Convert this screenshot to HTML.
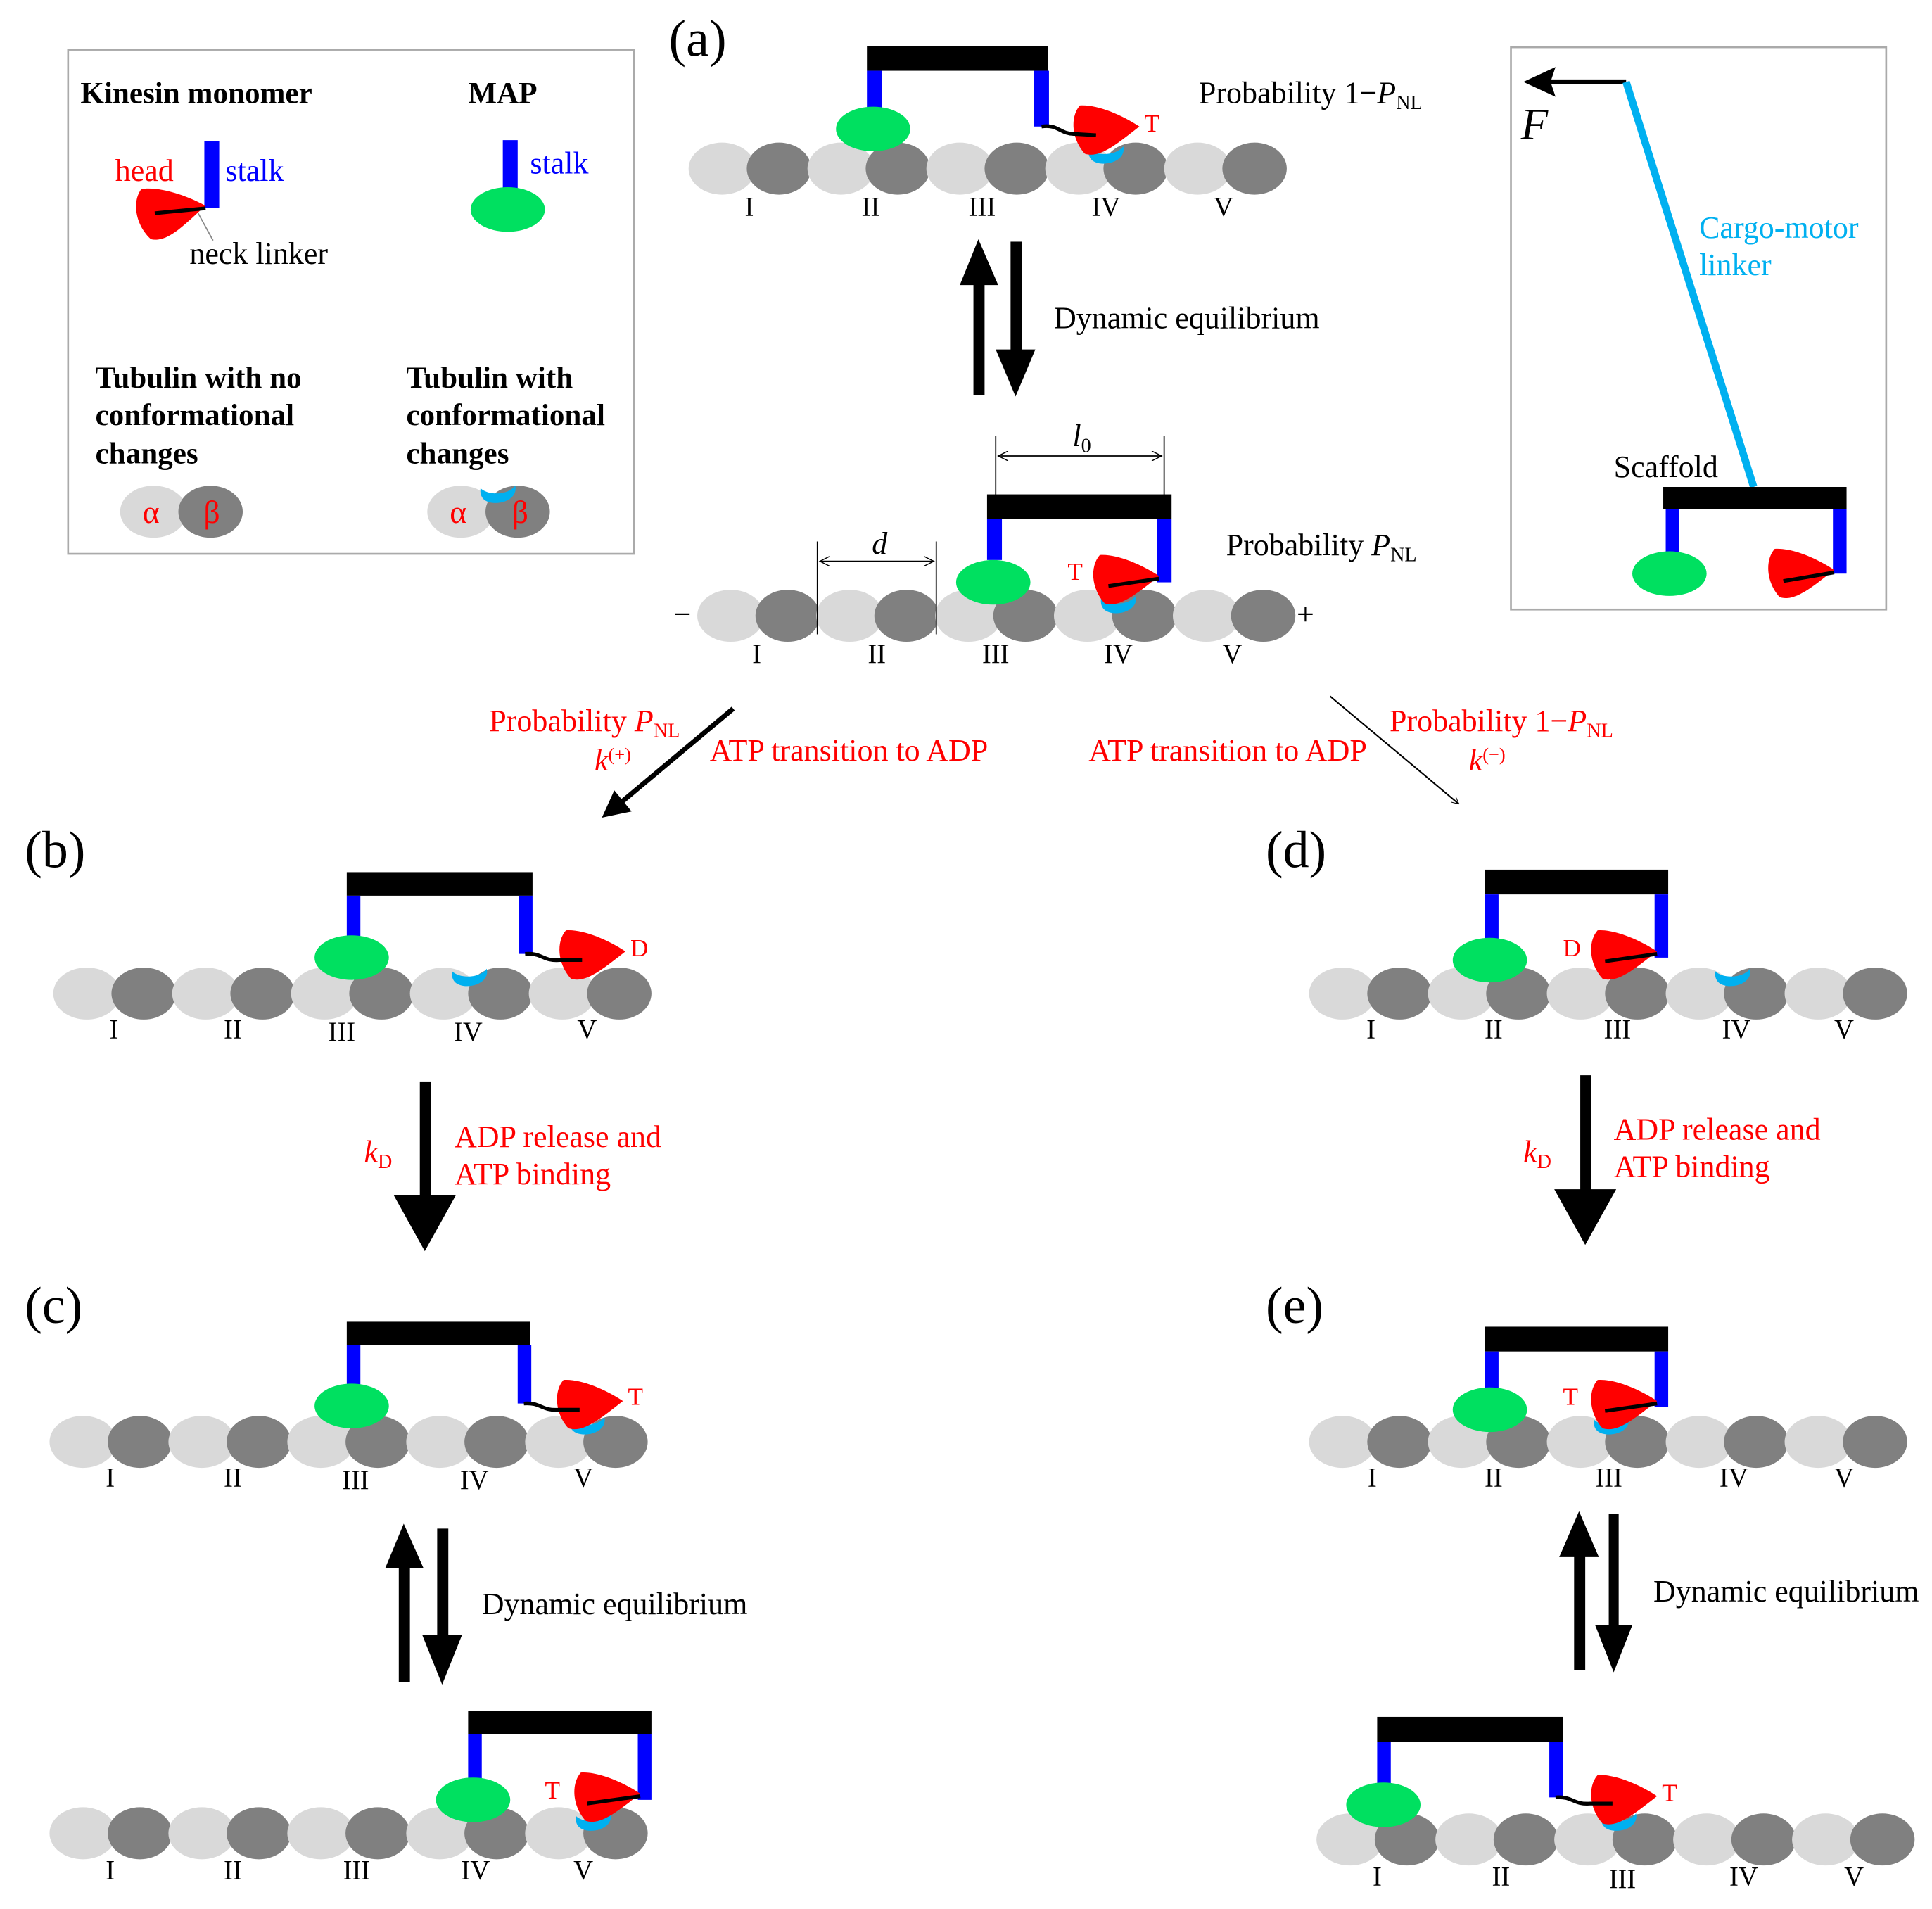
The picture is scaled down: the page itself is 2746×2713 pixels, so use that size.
<!DOCTYPE html>
<html><head><meta charset="utf-8"><style>
html,body{margin:0;padding:0;background:#fff}
svg{display:block}
text{font-family:"Liberation Serif",serif;font-size:25px;fill:#000}
.r{fill:#f00}
.rom{font-size:22px;text-anchor:middle}
.lab{font-size:42px}
.b{font-weight:bold;font-size:24.5px}
.s{font-size:20px}
</style></head><body>
<svg width="2746" height="2713" viewBox="0 0 1560 1541" xmlns="http://www.w3.org/2000/svg">
<defs>
<g id="pair"><ellipse cx="0" cy="0" rx="27" ry="21" fill="#d9d9d9"/><ellipse cx="46" cy="0" rx="26" ry="21" fill="#808080"/></g>
<g id="row"><use href="#pair" x="0"/><use href="#pair" x="96"/><use href="#pair" x="192"/><use href="#pair" x="288"/><use href="#pair" x="384"/></g>
<path id="head" d="M0 -2 C-15 -12 -35 -20 -48 -19 C-56 -10 -55 8 -44 20 C-32 24 -18 12 0 -2 Z" fill="#f00"/>
<path id="patch" d="M-14 -4 C-8 2 8 2 14 -6 C16 2 8 8 -2 8 C-10 8 -15 4 -14 -4Z" fill="#00b0f0"/>
<marker id="ah2" viewBox="0 0 10 10" refX="10" refY="5" markerWidth="6" markerHeight="6" orient="auto" markerUnits="userSpaceOnUse"><path d="M0 0 L10 5 L0 10" fill="none" stroke="#000" stroke-width="1"/></marker>
<marker id="dm" viewBox="0 0 10 10" refX="10" refY="5" markerWidth="10" markerHeight="8" orient="auto-start-reverse" markerUnits="userSpaceOnUse"><path d="M0 0 L10 5 L0 10" fill="none" stroke="#000" stroke-width="1"/></marker>
</defs>

<!-- Legend -->
<rect x="55" y="40" width="457" height="407" fill="none" stroke="#aaa" stroke-width="1.5"/>
<text x="65" y="83" class="b">Kinesin monomer</text>
<text x="378" y="83" class="b">MAP</text>
<text x="93" y="146" class="r">head</text>
<text x="182" y="146" style="fill:#00f">stalk</text>
<rect x="165" y="114" width="12" height="54" fill="#00f"/>
<use href="#head" transform="translate(166,168) rotate(-5) scale(1.05)"/>
<line x1="125" y1="172" x2="166" y2="168" stroke="#000" stroke-width="3"/>
<line x1="160" y1="172" x2="172" y2="194" stroke="#888" stroke-width="1"/>
<text x="153" y="213">neck linker</text>
<rect x="406" y="113" width="12" height="40" fill="#00f"/>
<ellipse cx="410" cy="169" rx="30" ry="18" fill="#00e060"/>
<text x="428" y="140" style="fill:#00f">stalk</text>
<text x="77" y="313" class="b">Tubulin with no</text>
<text x="77" y="343" class="b">conformational</text>
<text x="77" y="374" class="b">changes</text>
<text x="328" y="313" class="b">Tubulin with</text>
<text x="328" y="343" class="b">conformational</text>
<text x="328" y="374" class="b">changes</text>
<use href="#pair" x="124" y="413"/>
<text x="122" y="422" class="r" style="font-size:26px;text-anchor:middle">α</text>
<text x="171" y="422" class="r" style="font-size:26px;text-anchor:middle">β</text>
<use href="#pair" x="372" y="413"/>
<use href="#patch" x="402" y="398"/>
<text x="370" y="422" class="r" style="font-size:26px;text-anchor:middle">α</text>
<text x="420" y="422" class="r" style="font-size:26px;text-anchor:middle">β</text>

<!-- Right box -->
<rect x="1220" y="38" width="303" height="454" fill="none" stroke="#aaa" stroke-width="1.5"/>
<line x1="1313" y1="66" x2="1240" y2="66" stroke="#000" stroke-width="4"/>
<path d="M1230 66 L1256 54 L1252 66 L1256 78 Z" fill="#000"/>
<text x="1228" y="112" style="font-size:36px;font-style:italic">F</text>
<line x1="1313" y1="66" x2="1416" y2="393" stroke="#00b0f0" stroke-width="6"/>
<text x="1372" y="192" style="fill:#00b0f0">Cargo-motor</text>
<text x="1372" y="222" style="fill:#00b0f0">linker</text>
<text x="1303" y="385">Scaffold</text>
<rect x="1343" y="393" width="148" height="18" fill="#000"/>
<rect x="1345" y="411" width="11" height="36" fill="#00f"/>
<ellipse cx="1348" cy="463" rx="30" ry="18" fill="#00e060"/>
<rect x="1480" y="411" width="11" height="52" fill="#00f"/>
<use href="#head" x="1481" y="462"/>
<line x1="1440" y1="469" x2="1481" y2="462" stroke="#000" stroke-width="3"/>

<!-- (a) -->
<text x="540" y="45" class="lab">(a)</text>
<use href="#row" x="583" y="136"/>
<text x="605" y="174" class="rom">I</text><text x="703" y="174" class="rom">II</text><text x="793" y="174" class="rom">III</text><text x="893" y="174" class="rom">IV</text><text x="988" y="174" class="rom">V</text>
<rect x="700" y="37" width="146" height="20" fill="#000"/>
<rect x="700" y="57" width="12" height="33" fill="#00f"/>
<ellipse cx="705" cy="104" rx="30" ry="18" fill="#00e060"/>
<rect x="835" y="57" width="12" height="45" fill="#00f"/>
<use href="#patch" x="893" y="124"/>
<use href="#head" x="920" y="104"/>
<path d="M841 102 C855 100 855 108 868 108 L885 109" fill="none" stroke="#000" stroke-width="3"/>
<text x="924" y="106" class="r s">T</text>
<text x="968" y="83">Probability 1−<tspan font-style="italic">P</tspan><tspan font-size="16" dy="5">NL</tspan></text>

<rect x="786" y="225" width="9" height="94" fill="#000"/>
<path d="M790 193 L775 230 L806 230 Z" fill="#000"/>
<rect x="816" y="195" width="9" height="92" fill="#000"/>
<path d="M820 320 L804 282 L836 282 Z" fill="#000"/>
<text x="851" y="265">Dynamic equilibrium</text>

<use href="#row" x="590" y="497"/>
<text x="611" y="535" class="rom">I</text><text x="708" y="535" class="rom">II</text><text x="804" y="535" class="rom">III</text><text x="903" y="535" class="rom">IV</text><text x="995" y="535" class="rom">V</text>
<text x="544" y="504">−</text><text x="1047" y="504">+</text>
<line x1="804" y1="352" x2="804" y2="400" stroke="#000" stroke-width="1"/>
<line x1="940" y1="352" x2="940" y2="400" stroke="#000" stroke-width="1"/>
<line x1="806" y1="368" x2="938" y2="368" stroke="#000" stroke-width="1" marker-end="url(#dm)" marker-start="url(#dm)"/>
<text x="866" y="360" style="font-style:italic">l<tspan font-size="16" dy="5" font-style="normal">0</tspan></text>
<line x1="660" y1="437" x2="660" y2="512" stroke="#000" stroke-width="1"/>
<line x1="756" y1="437" x2="756" y2="512" stroke="#000" stroke-width="1"/>
<line x1="662" y1="453" x2="754" y2="453" stroke="#000" stroke-width="1" marker-end="url(#dm)" marker-start="url(#dm)"/>
<text x="704" y="447" style="font-style:italic">d</text>
<rect x="797" y="399" width="149" height="20" fill="#000"/>
<rect x="797" y="419" width="12" height="33" fill="#00f"/>
<ellipse cx="802" cy="470" rx="30" ry="18" fill="#00e060"/>
<rect x="934" y="419" width="12" height="51" fill="#00f"/>
<use href="#patch" x="903" y="487"/>
<use href="#head" x="936" y="467"/>
<line x1="895" y1="473" x2="936" y2="467" stroke="#000" stroke-width="3"/>
<text x="862" y="468" class="r s">T</text>
<text x="990" y="448">Probability <tspan font-style="italic">P</tspan><tspan font-size="16" dy="5">NL</tspan></text>

<line x1="592" y1="572" x2="500" y2="649" stroke="#000" stroke-width="4"/>
<path d="M486 660 L496 638 L510 655 Z" fill="#000"/>
<line x1="1074" y1="562" x2="1178" y2="649" stroke="#000" stroke-width="1.2" marker-end="url(#ah2)"/>
<text x="395" y="590" class="r">Probability <tspan font-style="italic">P</tspan><tspan font-size="16" dy="5">NL</tspan></text>
<text x="480" y="622" class="r" style="font-style:italic">k<tspan font-size="15" dy="-8" font-style="normal">(+)</tspan></text>
<text x="573" y="614" class="r">ATP transition to ADP</text>
<text x="879" y="614" class="r">ATP transition to ADP</text>
<text x="1122" y="590" class="r">Probability 1−<tspan font-style="italic">P</tspan><tspan font-size="16" dy="5">NL</tspan></text>
<text x="1186" y="622" class="r" style="font-style:italic">k<tspan font-size="15" dy="-8" font-style="normal">(−)</tspan></text>

<!-- (b) -->
<text x="20" y="700" class="lab">(b)</text>
<use href="#row" x="70" y="802"/>
<text x="92" y="838" class="rom">I</text><text x="188" y="838" class="rom">II</text><text x="276" y="840" class="rom">III</text><text x="378" y="840" class="rom">IV</text><text x="474" y="838" class="rom">V</text>
<rect x="280" y="704" width="150" height="19" fill="#000"/>
<rect x="280" y="723" width="11" height="33" fill="#00f"/>
<ellipse cx="284" cy="773" rx="30" ry="18" fill="#00e060"/>
<rect x="419" y="723" width="11" height="47" fill="#00f"/>
<use href="#patch" x="379" y="788"/>
<use href="#head" x="505" y="770"/>
<path d="M424 770 C438 769 438 776 452 775 L470 775" fill="none" stroke="#000" stroke-width="3"/>
<text x="509" y="772" class="r s">D</text>
<rect x="339" y="873" width="9" height="100" fill="#000"/>
<path d="M343 1010 L318 965 L368 965 Z" fill="#000"/>
<text x="294" y="938" class="r" style="font-style:italic">k<tspan font-size="16" dy="5" font-style="normal">D</tspan></text>
<text x="367" y="926" class="r">ADP release and</text>
<text x="367" y="956" class="r">ATP binding</text>

<!-- (c) -->
<text x="20" y="1068" class="lab">(c)</text>
<use href="#row" x="67" y="1164"/>
<text x="89" y="1200" class="rom">I</text><text x="188" y="1200" class="rom">II</text><text x="287" y="1202" class="rom">III</text><text x="383" y="1202" class="rom">IV</text><text x="471" y="1200" class="rom">V</text>
<rect x="280" y="1067" width="148" height="19" fill="#000"/>
<rect x="280" y="1086" width="11" height="34" fill="#00f"/>
<ellipse cx="284" cy="1135" rx="30" ry="18" fill="#00e060"/>
<rect x="418" y="1086" width="11" height="47" fill="#00f"/>
<use href="#patch" x="474" y="1150"/>
<use href="#head" x="503" y="1133"/>
<path d="M423 1133 C437 1132 437 1139 451 1138 L468 1138" fill="none" stroke="#000" stroke-width="3"/>
<text x="507" y="1134" class="r s">T</text>
<rect x="322" y="1260" width="9" height="98" fill="#000"/>
<path d="M326 1230 L311 1266 L342 1266 Z" fill="#000"/>
<rect x="353" y="1234" width="9" height="92" fill="#000"/>
<path d="M357 1360 L341 1320 L373 1320 Z" fill="#000"/>
<text x="389" y="1303">Dynamic equilibrium</text>
<use href="#row" x="67" y="1480"/>
<text x="89" y="1517" class="rom">I</text><text x="188" y="1517" class="rom">II</text><text x="288" y="1517" class="rom">III</text><text x="384" y="1517" class="rom">IV</text><text x="471" y="1517" class="rom">V</text>
<rect x="378" y="1381" width="148" height="19" fill="#000"/>
<rect x="378" y="1400" width="11" height="37" fill="#00f"/>
<ellipse cx="382" cy="1453" rx="30" ry="18" fill="#00e060"/>
<rect x="515" y="1400" width="11" height="53" fill="#00f"/>
<use href="#patch" x="479" y="1470"/>
<use href="#head" x="517" y="1450"/>
<line x1="474" y1="1456" x2="517" y2="1450" stroke="#000" stroke-width="3"/>
<text x="440" y="1452" class="r s">T</text>

<!-- (d) -->
<text x="1022" y="700" class="lab">(d)</text>
<use href="#row" x="1084" y="802"/>
<text x="1107" y="838" class="rom">I</text><text x="1206" y="838" class="rom">II</text><text x="1306" y="838" class="rom">III</text><text x="1402" y="838" class="rom">IV</text><text x="1489" y="838" class="rom">V</text>
<rect x="1199" y="702" width="148" height="20" fill="#000"/>
<rect x="1199" y="722" width="11" height="38" fill="#00f"/>
<ellipse cx="1203" cy="775" rx="30" ry="18" fill="#00e060"/>
<rect x="1336" y="722" width="11" height="51" fill="#00f"/>
<use href="#patch" x="1399" y="788"/>
<use href="#head" x="1338" y="770"/>
<line x1="1296" y1="776" x2="1338" y2="770" stroke="#000" stroke-width="3"/>
<text x="1262" y="772" class="r s">D</text>
<rect x="1276" y="868" width="9" height="100" fill="#000"/>
<path d="M1280 1005 L1255 960 L1305 960 Z" fill="#000"/>
<text x="1230" y="938" class="r" style="font-style:italic">k<tspan font-size="16" dy="5" font-style="normal">D</tspan></text>
<text x="1303" y="920" class="r">ADP release and</text>
<text x="1303" y="950" class="r">ATP binding</text>

<!-- (e) -->
<text x="1022" y="1068" class="lab">(e)</text>
<use href="#row" x="1084" y="1164"/>
<text x="1108" y="1200" class="rom">I</text><text x="1206" y="1200" class="rom">II</text><text x="1299" y="1200" class="rom">III</text><text x="1400" y="1200" class="rom">IV</text><text x="1489" y="1200" class="rom">V</text>
<rect x="1199" y="1071" width="148" height="20" fill="#000"/>
<rect x="1199" y="1091" width="11" height="31" fill="#00f"/>
<ellipse cx="1203" cy="1138" rx="30" ry="18" fill="#00e060"/>
<rect x="1336" y="1091" width="11" height="45" fill="#00f"/>
<use href="#patch" x="1301" y="1150"/>
<use href="#head" x="1338" y="1133"/>
<line x1="1296" y1="1139" x2="1338" y2="1133" stroke="#000" stroke-width="3"/>
<text x="1262" y="1134" class="r s">T</text>
<rect x="1271" y="1250" width="9" height="98" fill="#000"/>
<path d="M1275 1220 L1259 1257 L1291 1257 Z" fill="#000"/>
<rect x="1299" y="1222" width="8" height="92" fill="#000"/>
<path d="M1303 1350 L1288 1312 L1318 1312 Z" fill="#000"/>
<text x="1335" y="1293">Dynamic equilibrium</text>
<use href="#row" x="1090" y="1485"/>
<text x="1112" y="1522" class="rom">I</text><text x="1212" y="1522" class="rom">II</text><text x="1310" y="1524" class="rom">III</text><text x="1408" y="1522" class="rom">IV</text><text x="1497" y="1522" class="rom">V</text>
<rect x="1112" y="1386" width="150" height="20" fill="#000"/>
<rect x="1112" y="1406" width="11" height="34" fill="#00f"/>
<ellipse cx="1117" cy="1457" rx="30" ry="18" fill="#00e060"/>
<rect x="1251" y="1406" width="11" height="45" fill="#00f"/>
<use href="#patch" x="1307" y="1470"/>
<use href="#head" x="1338" y="1452"/>
<path d="M1256 1451 C1270 1450 1270 1457 1284 1456 L1302 1456" fill="none" stroke="#000" stroke-width="3"/>
<text x="1342" y="1454" class="r s">T</text>
</svg>
</body></html>
